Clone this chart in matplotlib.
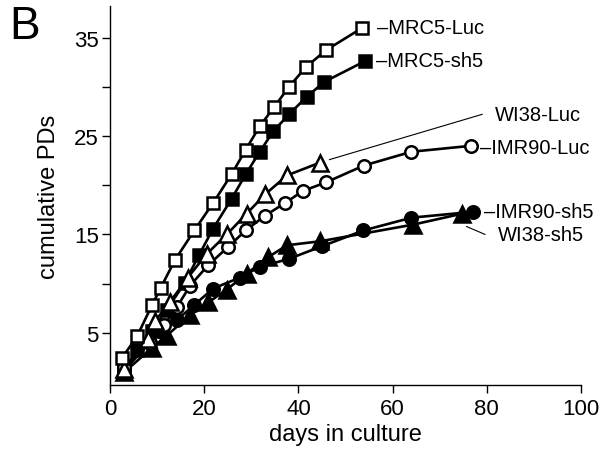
import matplotlib.pyplot as plt

plt.rcParams['font.family'] = ['Liberation Sans', 'DejaVu Sans']

# days in culture / cumulative population doublings
mrc5_luc_days = [2.5, 5.8, 8.9, 10.8, 13.8, 17.9, 21.9, 25.8, 28.8, 31.8, 34.8, 38.0, 41.6, 45.8, 53.6]
mrc5_luc_pd = [2.4, 4.7, 7.8, 9.6, 12.4, 15.4, 18.2, 21.1, 23.6, 26.0, 27.9, 30.0, 32.0, 33.7, 36.0]

mrc5_sh5_days = [3.0, 5.8, 8.9, 12.0, 15.9, 18.9, 21.9, 25.8, 28.8, 31.8, 34.7, 38.0, 41.8, 45.5, 54.1]
mrc5_sh5_pd = [1.2, 3.3, 5.2, 7.3, 10.1, 12.9, 15.6, 18.6, 21.1, 23.4, 25.5, 27.2, 29.0, 30.5, 32.6]

wi38_luc_days = [3.0, 8.0, 9.6, 12.7, 16.5, 20.5, 24.8, 29.0, 33.0, 37.6, 44.6]
wi38_luc_pd = [1.3, 4.4, 6.2, 8.1, 10.6, 13.0, 15.0, 17.1, 19.1, 21.0, 22.3]

imr90_luc_days = [3.0, 8.5, 11.5, 14.2, 17.0, 20.9, 25.0, 28.8, 32.9, 37.2, 40.9, 45.9, 53.9, 64.0, 76.6]
imr90_luc_pd = [1.5, 4.0, 5.8, 7.6, 9.8, 11.9, 13.7, 15.4, 16.9, 18.2, 19.4, 20.3, 22.0, 23.4, 24.0]

imr90_sh5_days = [3.0, 8.5, 11.0, 14.2, 17.8, 21.9, 27.5, 31.8, 37.9, 45.0, 53.8, 64.0, 77.1]
imr90_sh5_pd = [1.2, 4.0, 5.1, 6.3, 7.8, 9.5, 10.6, 11.7, 12.5, 13.8, 15.4, 16.7, 17.3]

wi38_sh5_days = [3.0, 9.0, 12.0, 17.0, 20.9, 24.8, 29.0, 33.6, 37.6, 44.6, 64.4, 74.7]
wi38_sh5_pd = [1.0, 3.5, 4.7, 6.8, 8.1, 9.4, 11.0, 12.7, 13.9, 14.3, 16.0, 17.1]

fig = plt.figure(figsize=(6.11, 4.56), dpi=100)
ax = fig.add_axes([0.18, 0.1535, 0.771, 0.831])

lw = 1.9
ms = 9
tms = 11
mew = 1.8

# filled series first, open series on top
ax.plot(wi38_sh5_days, wi38_sh5_pd, color='black', lw=lw, marker='^', ms=tms,
        mfc='black', mec='black', mew=mew)
ax.plot(imr90_sh5_days, imr90_sh5_pd, color='black', lw=lw, marker='o', ms=ms,
        mfc='black', mec='black', mew=mew)
ax.plot(mrc5_sh5_days, mrc5_sh5_pd, color='black', lw=lw, marker='s', ms=ms,
        mfc='black', mec='black', mew=mew)
ax.plot(imr90_luc_days, imr90_luc_pd, color='black', lw=lw, marker='o', ms=ms,
        mfc='white', mec='black', mew=mew)
ax.plot(wi38_luc_days, wi38_luc_pd, color='black', lw=lw, marker='^', ms=tms,
        mfc='white', mec='black', mew=mew)
ax.plot(mrc5_luc_days, mrc5_luc_pd, color='black', lw=lw, marker='s', ms=ms,
        mfc='white', mec='black', mew=mew)

# curve labels
lab_fs = 14.5
ax.text(56.6, 36.05, '\u2013MRC5-Luc', fontsize=lab_fs, va='center', ha='left')
ax.text(56.5, 32.65, '\u2013MRC5-sh5', fontsize=lab_fs, va='center', ha='left')
ax.plot([46.6, 79.0], [22.6, 27.2], color='black', lw=0.8)
ax.text(81.8, 27.2, 'WI38-Luc', fontsize=lab_fs, va='center', ha='left')
ax.text(78.6, 23.85, '\u2013IMR90-Luc', fontsize=lab_fs, va='center', ha='left')
ax.text(79.4, 17.33, '\u2013IMR90-sh5', fontsize=lab_fs, va='center', ha='left')
ax.plot([75.7, 79.6], [15.8, 15.0], color='black', lw=0.8)
ax.text(82.3, 15.0, 'WI38-sh5', fontsize=lab_fs, va='center', ha='left')

ax.set_xlim(0, 100)
ax.set_ylim(-0.3, 38.2)
ax.set_xticks([0, 20, 40, 60, 80, 100])
ax.set_yticks([5, 15, 25, 35])
ax.set_yticks([10, 20, 30], minor=True)

ax.spines['top'].set_visible(False)
ax.spines['right'].set_visible(False)
for s in ['left', 'bottom']:
    ax.spines[s].set_linewidth(1.0)

ax.tick_params(axis='both', which='both', direction='out', length=6, width=1.0,
               labelsize=16)
ax.tick_params(axis='y', pad=2)
ax.tick_params(axis='x', pad=3)

ax.set_xlabel('days in culture', fontsize=17, labelpad=3)
ax.set_ylabel('cumulative PDs', fontsize=17, labelpad=10)

fig.text(0.015, 0.99, 'B', fontsize=33, va='top', ha='left')

fig.savefig('out.png', dpi=100)
